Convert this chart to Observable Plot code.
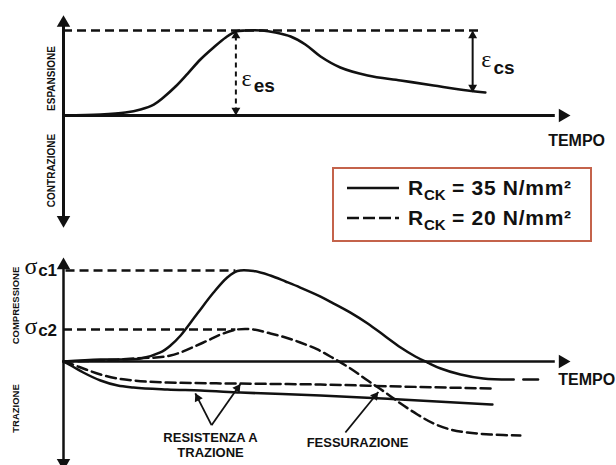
<!DOCTYPE html>
<html>
<head>
<meta charset="utf-8">
<script src="https://cdn.jsdelivr.net/npm/d3@7"></script>
<script src="https://cdn.jsdelivr.net/npm/@observablehq/plot@0.6"></script>
<style>
  html, body { margin: 0; padding: 0; background: #fff; overflow: hidden; }
  #wrap { position: relative; width: 616px; height: 465px; overflow: hidden; font-family: "Liberation Sans", Arial, sans-serif; background: #fff; }
  #top, #bottom { position: absolute; left: 0; }
  #top { top: 0; }
  #bottom { top: 240px; }
  #legend { position: absolute; left: 332px; top: 167px; width: 256px; height: 71px; border: 2px solid #c4634b; background: #fff; }
  #legend svg { position: absolute; left: 12px; width: 56px; height: 10px; overflow: visible; }
  #legend .lab { position: absolute; left: 74px; font-size: 21px; font-weight: bold; line-height: 1; white-space: nowrap; color: #111; letter-spacing: 0.7px; }
  #legend .lab sub { font-size: 15px; vertical-align: -5px; line-height: 0; letter-spacing: 0; }
</style>
</head>
<body>
<div id="wrap">
  <div id="top"></div>
  <div id="bottom"></div>
  <div id="legend"></div>
</div>
<script>
// ---------- data (schematic, arbitrary units) ----------
// time axis shared by both panels
const timeDomain = [0, 100];

// TOP PANEL: strain vs time (Rck = 35 N/mm²)
const strainTime  = [0, 7.3, 12.2, 15.2, 17.8, 19.7, 22.1, 24.5, 27.0, 29.6, 32.0, 34.0, 35.9, 39.2, 41.8, 44.8, 47.7, 50.7, 54.6, 60.0, 66.5, 73.0, 79.7, 83.2];
const strainValue = [0, 1.2, 3.5, 7.1, 12.9, 21.2, 34.1, 49.4, 65.9, 80.0, 91.8, 98.8, 100, 100, 97.6, 92.9, 83.5, 69.4, 56.5, 47.1, 41.2, 35.3, 29.4, 27.1];
const strainDomain = [-132, 118];
const epsES = 100;          // peak expansion
const epsESTime = 34.0;
const epsPeakLineEnd = 81.9;
const epsCSTime = 80.7;
const epsCSEnd = 27.1;      // final value

// BOTTOM PANEL: stress vs time
const stressDomain = [-120, 114.3];
const comp35Time  = [0, 7.3, 15.2, 19.1, 21.1, 23.1, 26.4, 29.6, 32.3, 34.3, 37.5, 40.8, 43.8, 46.7, 50.7, 53.3, 56.6, 60.0, 63.5, 66.5, 69.4, 71.8, 74.4, 78.3, 82.8, 88.8];
const comp35Value = [0, 2.2, 3.3, 9.9, 17.6, 28.6, 52.7, 75.8, 92.3, 99.5, 99.5, 94.5, 87.9, 81.3, 71.4, 63.7, 53.8, 41.8, 27.5, 15.4, 5.5, -1.1, -7.7, -14.3, -18.7, -19.8];
const comp35TailTime  = [90.7, 93.6];
const comp35TailValue = [-19.8, -19.8];
const comp20Time  = [0, 7.3, 13.8, 21.1, 27.6, 31.0, 34.3, 37.5, 40.8, 43.8, 46.7, 50.1, 53.3, 56.6, 60.0, 63.5, 66.5, 69.8, 73.0, 76.3, 79.7, 84.2, 90.1];
const comp20Value = [0, 1.1, 3.3, 6.6, 20.9, 29.7, 35.2, 35.2, 30.8, 26.4, 20.9, 13.2, 3.3, -7.7, -20.9, -34.1, -46.2, -58.2, -68.1, -74.7, -78.0, -80.2, -81.3];
const tens20Time  = [0, 1.8, 3.9, 7.3, 10.7, 13.8, 20.5, 33.5, 50.7, 66.5, 84.6];
const tens20Value = [0, -3.3, -7.7, -14.3, -18.7, -20.9, -23.1, -24.2, -25.3, -27.5, -29.7];
const tens35Time  = [0, 1.8, 3.9, 7.3, 10.7, 13.8, 20.5, 27.0, 34.9, 50.7, 66.5, 84.6];
const tens35Value = [0, -5.5, -12.1, -20.9, -26.4, -28.6, -30.8, -31.9, -34.1, -37.4, -41.8, -47.3];
const sigmaC1 = 100, sigmaC1End = 34.0;
const sigmaC2 = 35.2, sigmaC2End = 34.0;

// annotation arrows [from t, from v, to t, to v]
const resistArrows = [[29.2, -70.0, 26.0, -35.0], [29.2, -70.0, 34.9, -24.6]];
const fessArrow = [[55.6, -78.0, 62.1, -33.5]];

// text labels
const topLabels = [
  {t: 101.2, v: -29.4, text: "TEMPO"}
];
const topAxisLabels = [
  {t: -2.4, v: 43.5, text: "ESPANSIONE"},
  {t: -2.4, v: -64.7, text: "CONTRAZIONE"}
];
const topGreek = [
  {t: 35.1, v: 43.5, text: "ε"},
  {t: 82.4, v: 65.9, text: "ε"}
];
const topSubs = [
  {t: 37.5, v: 35.3, text: "es"},
  {t: 84.8, v: 56.5, text: "cs"}
];
const botLabels = [
  {t: 103.2, v: -19.8, text: "TEMPO", size: 16},
  {t: 29.0, v: -84.1, text: "RESISTENZA A", size: 13},
  {t: 29.0, v: -100.0, text: "TRAZIONE", size: 13},
  {t: 58.0, v: -89.0, text: "FESSURAZIONE", size: 13}
];
const botAxisLabels = [
  {t: -9.3, v: 61.5, text: "COMPRESSIONE"},
  {t: -9.3, v: -51.6, text: "TRAZIONE"}
];
const botGreek = [
  {t: -7.7, v: 104.4, text: "σ"},
  {t: -7.7, v: 38.5, text: "σ"}
];
const botSubs = [
  {t: -5.0, v: 100.0, text: "c1"},
  {t: -5.0, v: 34.1, text: "c2"}
];
const legendItems = [
  {dash: null, label: "= 35 N/mm²"},
  {dash: "12,4", label: "= 20 N/mm²"}
];

// ---------- helpers ----------
const zip = (ts, vs) => ts.map((t, i) => ({t, v: vs[i]}));
const font = "Liberation Sans, Arial, sans-serif";
const xRange = [63, 570];
const kx = (xRange[1] - xRange[0]) / (timeDomain[1] - timeDomain[0]);

// arrow head: triangle whose tip sits at (t, v), pointing at angle a (deg, clockwise from up)
function heads(list, ky, r) {
  const off = 1.555 * r;
  return list.map(([t, v, a]) => {
    const rad = a * Math.PI / 180;
    return {t: t - off * Math.sin(rad) / kx, v: v - off * Math.cos(rad) / ky, a};
  });
}
function arrowAngle([t1, v1, t2, v2], ky) {
  return Math.atan2((t2 - t1) * kx, (v2 - v1) * ky) * 180 / Math.PI;
}

// ---------- TOP PANEL ----------
const topRange = [227.2, 14.7];
const kyTop = (topRange[0] - topRange[1]) / (strainDomain[1] - strainDomain[0]);
const topAxisHeads = heads([[0, strainDomain[1], 0], [0, strainDomain[0], 180], [timeDomain[1], 0, 90]], kyTop, 5);
const topSmallHeads = heads([[epsESTime, epsES, 0], [epsESTime, 0, 180], [epsCSTime, epsES, 0], [epsCSTime, epsCSEnd, 180]], kyTop, 3.3);

const topPlot = Plot.plot({
  width: 616, height: 240,
  style: {background: "#fff", fontFamily: font},
  x: {domain: timeDomain, range: xRange, axis: null},
  y: {domain: strainDomain, range: topRange, axis: null},
  marks: [
    Plot.ruleY([0], {x1: timeDomain[0], x2: timeDomain[1] - 3, stroke: "#111", strokeWidth: 3}),
    Plot.ruleX([0], {y1: strainDomain[0] + 4, y2: strainDomain[1] - 4, stroke: "#111", strokeWidth: 3}),
    Plot.dot(topAxisHeads, {x: "t", y: "v", rotate: "a", symbol: "triangle", r: 5, fill: "#111", stroke: null}),
    Plot.ruleY([epsES], {x1: 0, x2: epsPeakLineEnd, stroke: "#111", strokeWidth: 2.5, strokeDasharray: "9,5"}),
    Plot.line(zip(strainTime, strainValue), {x: "t", y: "v", curve: "catmull-rom", stroke: "#111", strokeWidth: 2.6}),
    Plot.ruleX([epsESTime], {y1: 3, y2: epsES - 3, stroke: "#111", strokeWidth: 2, strokeDasharray: "5,4"}),
    Plot.ruleX([epsCSTime], {y1: epsCSEnd + 3, y2: epsES - 3, stroke: "#111", strokeWidth: 2}),
    Plot.dot(topSmallHeads, {x: "t", y: "v", rotate: "a", symbol: "triangle", r: 3.3, fill: "#111", stroke: null}),
    Plot.text(topLabels, {x: "t", y: "v", text: "text", fontSize: 16, fontWeight: "bold", fill: "#111"}),
    Plot.text(topAxisLabels, {x: "t", y: "v", text: "text", rotate: -90, fontSize: 10, fontWeight: "bold", fill: "#111"}),
    Plot.text(topGreek, {x: "t", y: "v", text: "text", textAnchor: "start", fontSize: 24, fontFamily: "Liberation Serif, serif", fill: "#111"}),
    Plot.text(topSubs, {x: "t", y: "v", text: "text", textAnchor: "start", fontSize: 19, fontWeight: "bold", fill: "#111"})
  ]
});
document.getElementById("top").appendChild(topPlot);

// ---------- BOTTOM PANEL ----------
const botRange = [230.2, 17.0];
const kyBot = (botRange[0] - botRange[1]) / (stressDomain[1] - stressDomain[0]);
const botAxisHeads = heads([[0, stressDomain[1], 0], [0, stressDomain[0], 180], [timeDomain[1], 0, 90]], kyBot, 5);
const annArrows = [...resistArrows, ...fessArrow];
const annHeads = heads(annArrows.map(a => [a[2], a[3], arrowAngle(a, kyBot)]), kyBot, 3.3);
const annLinks = annArrows.map(([t1, v1, t2, v2]) => ({t1, v1, t2, v2}));

const botPlot = Plot.plot({
  width: 616, height: 240,
  style: {background: "#fff", fontFamily: font},
  x: {domain: timeDomain, range: xRange, axis: null},
  y: {domain: stressDomain, range: botRange, axis: null},
  marks: [
    Plot.ruleY([0], {x1: timeDomain[0], x2: timeDomain[1] - 3, stroke: "#111", strokeWidth: 2.5}),
    Plot.ruleX([0], {y1: stressDomain[0] + 4, y2: stressDomain[1] - 4, stroke: "#111", strokeWidth: 2.5}),
    Plot.dot(botAxisHeads, {x: "t", y: "v", rotate: "a", symbol: "triangle", r: 5, fill: "#111", stroke: null}),
    Plot.ruleY([sigmaC1], {x1: 0.5, x2: sigmaC1End, stroke: "#111", strokeWidth: 2.3, strokeDasharray: "9,5"}),
    Plot.ruleY([sigmaC2], {x1: 0, x2: sigmaC2End, stroke: "#111", strokeWidth: 2.3, strokeDasharray: "9,5"}),
    Plot.line(zip(comp35Time, comp35Value), {x: "t", y: "v", curve: "catmull-rom", stroke: "#111", strokeWidth: 2.5}),
    Plot.line(zip(comp35TailTime, comp35TailValue), {x: "t", y: "v", stroke: "#111", strokeWidth: 2.5}),
    Plot.line(zip(comp20Time, comp20Value), {x: "t", y: "v", curve: "catmull-rom", stroke: "#111", strokeWidth: 2.5, strokeDasharray: "10,5"}),
    Plot.line(zip(tens20Time, tens20Value), {x: "t", y: "v", curve: "monotone-x", stroke: "#111", strokeWidth: 2.5, strokeDasharray: "10,5"}),
    Plot.line(zip(tens35Time, tens35Value), {x: "t", y: "v", curve: "monotone-x", stroke: "#111", strokeWidth: 2.5}),
    Plot.link(annLinks, {x1: "t1", y1: "v1", x2: "t2", y2: "v2", stroke: "#111", strokeWidth: 1.8}),
    Plot.dot(annHeads, {x: "t", y: "v", rotate: "a", symbol: "triangle", r: 3.3, fill: "#111", stroke: null}),
    Plot.text(botLabels, {x: "t", y: "v", text: "text", fontSize: d => d.size, fontWeight: "bold", fill: "#111"}),
    Plot.text(botAxisLabels, {x: "t", y: "v", text: "text", rotate: -90, fontSize: 9.5, fontWeight: "bold", fill: "#111"}),
    Plot.text(botGreek, {x: "t", y: "v", text: "text", textAnchor: "start", fontSize: 24, fontFamily: "Liberation Serif, serif", fill: "#111"}),
    Plot.text(botSubs, {x: "t", y: "v", text: "text", textAnchor: "start", fontSize: 17, fontWeight: "bold", fill: "#111"})
  ]
});
document.getElementById("bottom").appendChild(botPlot);

// ---------- LEGEND ----------
const legend = document.getElementById("legend");
const rowCenters = [19, 49];
legendItems.forEach((item, i) => {
  const svg = d3.select(legend).append("svg").style("top", (rowCenters[i] - 5) + "px");
  svg.append("line").attr("x1", 1).attr("x2", 53).attr("y1", 5).attr("y2", 5)
    .attr("stroke", "#111").attr("stroke-width", 2.5)
    .attr("stroke-dasharray", item.dash);
  d3.select(legend).append("div").attr("class", "lab")
    .style("top", (rowCenters[i] - 11) + "px")
    .html("R<sub>CK</sub> " + item.label);
});
</script>
</body>
</html>
